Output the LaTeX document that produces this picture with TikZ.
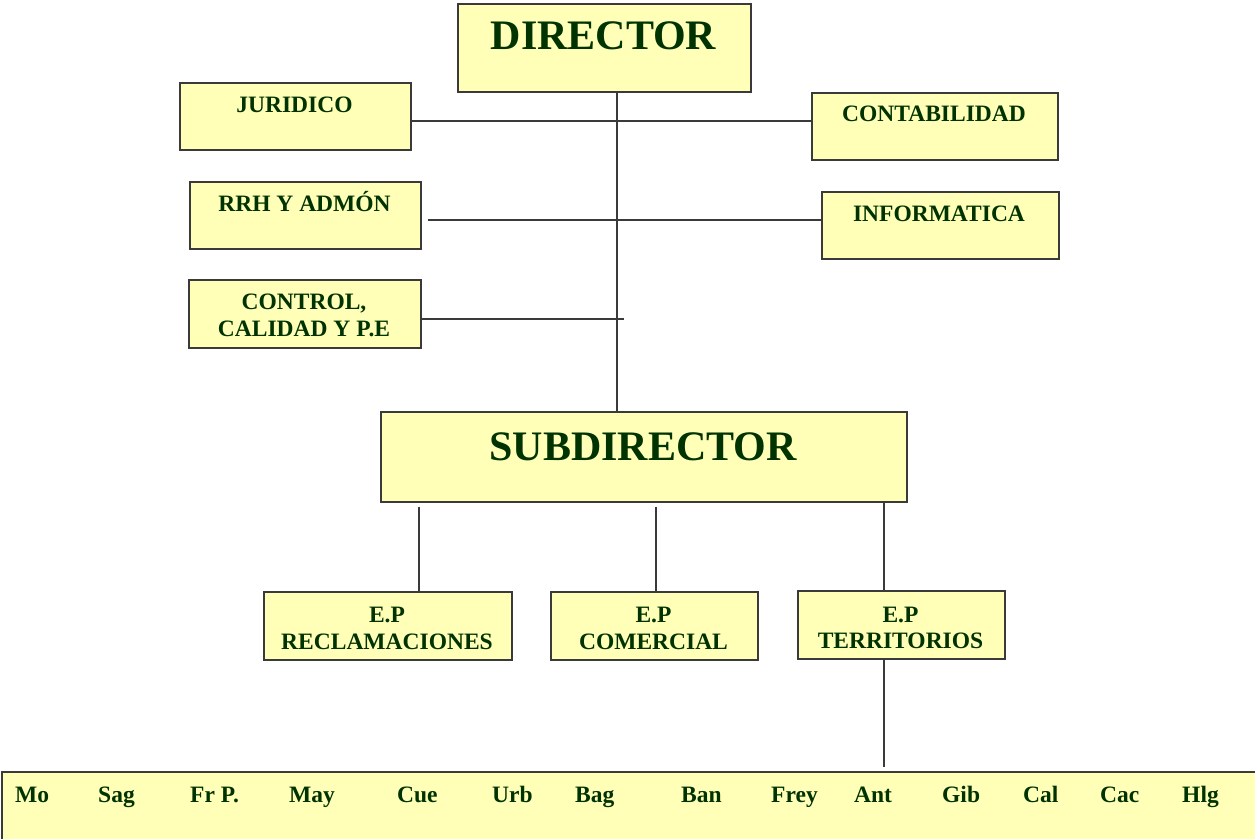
\documentclass[tikz,border=0pt]{standalone}
\usepackage{fontspec}
\setmainfont{Liberation Serif}
\definecolor{boxfill}{HTML}{FFFFB8}
\definecolor{boxline}{HTML}{3A3A3A}
\definecolor{txtgreen}{HTML}{003300}
\begin{document}
\begin{tikzpicture}[x=1pt,y=-1pt,
  box/.style={draw=boxline,line width=1.6pt,fill=boxfill,anchor=north west,inner sep=0pt},
  txt/.style={text=txtgreen,font=\bfseries\fontsize{23.5}{28}\selectfont,anchor=base,inner sep=0pt},
  bigtxt/.style={text=txtgreen,font=\bfseries\fontsize{42}{48}\selectfont,anchor=base,inner sep=0pt},
  bartxt/.style={text=txtgreen,font=\bfseries\fontsize{23.5}{28}\selectfont,anchor=base west,inner sep=0pt},
  conn/.style={draw=boxline,line width=1.5pt}]
\clip (0,0) rectangle (1255,838);
\fill[white] (0,0) rectangle (1255,838);

% boxes
\node[box,minimum width=293pt,minimum height=88pt] (dir) at (457,3) {};
\node[box,minimum width=231pt,minimum height=67pt] (jur) at (179,82) {};
\node[box,minimum width=246pt,minimum height=67pt] (cont) at (811,92) {};
\node[box,minimum width=231pt,minimum height=67pt] (rrh) at (189,181) {};
\node[box,minimum width=237pt,minimum height=67pt] (inf) at (821,191) {};
\node[box,minimum width=232pt,minimum height=68pt] (ctrl) at (188,279) {};
\node[box,minimum width=526pt,minimum height=90pt] (sub) at (380,411) {};
\node[box,minimum width=248pt,minimum height=68pt] (rec) at (263,591) {};
\node[box,minimum width=207pt,minimum height=68pt] (com) at (550,591) {};
\node[box,minimum width=207pt,minimum height=68pt] (ter) at (797,590) {};
\node[box,minimum width=1270pt,minimum height=75pt] (bar) at (1,771) {};

% texts
\node[bigtxt] (dirT) at (603.5,49) {DIRECTOR};
\node[bigtxt] (subT) at (643,460) {SUBDIRECTOR};
\node[txt] (jurT) at (294.5,112) {JURIDICO};
\node[txt] (contT) at (934,121) {CONTABILIDAD};
\node[txt] (rrhT) at (304.5,211) {RRH Y ADMÓN};
\node[txt] (infT) at (939,221) {INFORMATICA};
\node[txt] (ctrlTa) at (304,309) {CONTROL,};
\node[txt] (ctrlTb) at (304,336) {CALIDAD Y P.E};
\node[txt] (recTa) at (387,622) {E.P};
\node[txt] (recTb) at (387,649) {RECLAMACIONES};
\node[txt] (comTa) at (653.5,622) {E.P};
\node[txt] (comTb) at (653.5,649) {COMERCIAL};
\node[txt] (terTa) at (900.5,622) {E.P};
\node[txt] (terTb) at (900.5,648) {TERRITORIOS};

\node[bartxt] (b1) at (15,802) {Mo};
\node[bartxt] (b2) at (98,802) {Sag};
\node[bartxt] (b3) at (190,802) {Fr P.};
\node[bartxt] (b4) at (289,802) {May};
\node[bartxt] (b5) at (397,802) {Cue};
\node[bartxt] (b6) at (492,802) {Urb};
\node[bartxt] (b7) at (575,802) {Bag};
\node[bartxt] (b8) at (681,802) {Ban};
\node[bartxt] (b9) at (771,802) {Frey};
\node[bartxt] (b10) at (854,802) {Ant};
\node[bartxt] (b11) at (942,802) {Gib};
\node[bartxt] (b12) at (1023,802) {Cal};
\node[bartxt] (b13) at (1100,802) {Cac};
\node[bartxt] (b14) at (1182,802) {Hlg};

% guide coordinates
\coordinate (spine) at (617,0);
\coordinate (yjur) at (0,121);
\coordinate (yrrh) at (0,220);
\coordinate (yctrl) at (0,319);
\coordinate (ctrlEnd) at (624,319);
\coordinate (c1) at (419,0);
\coordinate (c2) at (656,0);
\coordinate (c3) at (884,0);

% connectors
\draw[conn] (dir.south -| spine) -- (sub.north -| spine);
\draw[conn] (jur.east |- yjur) -- (cont.west |- yjur);
\draw[conn,shorten <=6pt] (rrh.east |- yrrh) -- (inf.west |- yrrh);
\draw[conn] (ctrl.east |- yctrl) -- (ctrlEnd);
\draw[conn,shorten <=4pt] (sub.south -| c1) -- (rec.north -| c1);
\draw[conn,shorten <=4pt] (sub.south -| c2) -- (com.north -| c2);
\draw[conn] (sub.south -| c3) -- (ter.north -| c3);
\draw[conn,shorten >=4pt] (ter.south -| c3) -- (bar.north -| c3);
\end{tikzpicture}
\end{document}
